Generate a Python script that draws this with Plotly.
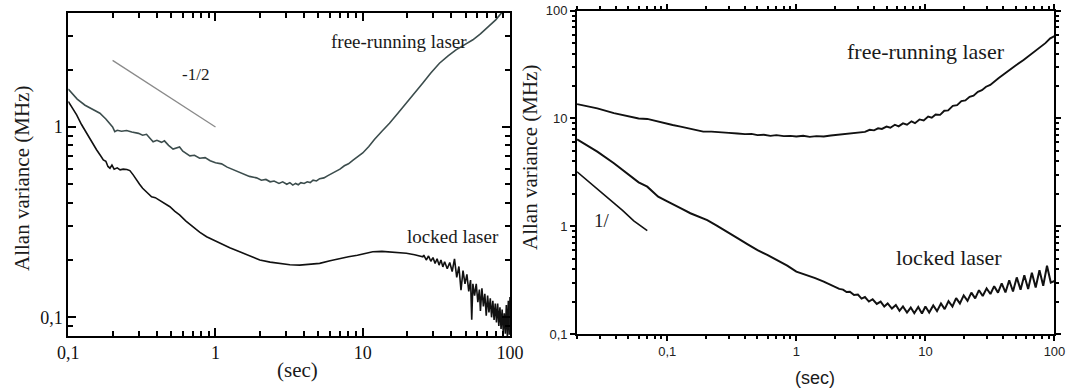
import math
import plotly.graph_objects as go

# ---------------- Left panel data ----------------
left_free_tau = [0.1, 0.115, 0.13, 0.15, 0.164, 0.18, 0.2, 0.207, 0.215, 0.23, 0.249, 0.27, 0.3, 0.32,
                 0.34, 0.36, 0.377, 0.4, 0.43, 0.45, 0.48, 0.515, 0.55, 0.57, 0.6, 0.64, 0.67, 0.72,
                 0.78, 0.85, 0.92, 1.0, 1.1, 1.2, 1.31, 1.45, 1.6, 1.7, 1.9, 2.05, 2.2, 2.35, 2.5,
                 2.7, 2.86, 3.05, 3.2, 3.35, 3.5, 3.65, 3.8, 4.0, 4.2, 4.4, 4.6, 4.85, 5.1, 5.45, 5.8,
                 6.2, 6.6, 7.0, 7.5, 8.0, 8.6, 9.3, 10, 11, 12, 13.5, 15.2, 17.5, 19.8, 22.5, 25.6,
                 29, 33.2, 38, 43, 49, 56, 63, 72, 80, 89, 95, 100]
left_free_val = [1.58, 1.40, 1.30, 1.22, 1.18, 1.10, 1.0, 0.945, 0.96, 0.95, 0.957, 0.94, 0.925, 0.905,
                 0.915, 0.87, 0.835, 0.85, 0.83, 0.845, 0.80, 0.765, 0.78, 0.785, 0.745, 0.725, 0.705, 0.71,
                 0.685, 0.69, 0.665, 0.648, 0.64, 0.615, 0.598, 0.58, 0.565, 0.55, 0.54, 0.525, 0.53, 0.515,
                 0.52, 0.505, 0.515, 0.5, 0.51, 0.495, 0.505, 0.497, 0.51, 0.505, 0.515, 0.51, 0.525,
                 0.52, 0.535, 0.54, 0.555, 0.57, 0.59, 0.6, 0.625, 0.64, 0.67, 0.70, 0.73, 0.79, 0.86,
                 0.95, 1.045, 1.19, 1.33, 1.50, 1.70, 1.92, 2.16, 2.36, 2.54, 2.70, 2.87, 3.08, 3.37,
                 3.65, 4.03, 4.3, 4.5]

left_locked_tau = [0.1, 0.107, 0.114, 0.123, 0.133, 0.144, 0.156, 0.165, 0.173, 0.18, 0.186, 0.192,
                   0.198, 0.205, 0.215, 0.225, 0.236, 0.25, 0.262, 0.276, 0.29, 0.305, 0.32, 0.34,
                   0.368, 0.39, 0.42, 0.45, 0.49, 0.53, 0.57, 0.63, 0.70, 0.78, 0.87, 0.96, 1.07,
                   1.25, 1.46, 1.7, 2.0, 2.35, 2.73, 3.2, 3.73, 4.4, 5.1, 6.0, 7.0, 8.0, 9.2, 10.5,
                   11.7, 13.5, 15.2, 17.5, 19.8, 22.5, 25.6,
                   26, 27, 28, 29, 30, 31, 32, 33, 34, 35, 36, 37.5, 39, 40.5, 42, 43.5, 45, 46.5,
                   48, 49.5, 51, 52.5, 54, 55, 56, 57.5, 59, 60.5, 62, 63, 64.5, 66, 67.5, 69, 70.5,
                   72, 73.5, 75, 76.5, 78, 79.5, 81, 82.5, 84, 85.5, 87, 88.5, 90, 91.5, 93, 94.5,
                   96, 97.5, 99, 100]
left_locked_val = [1.36, 1.25, 1.156, 1.03, 0.927, 0.84, 0.757, 0.71, 0.671, 0.66, 0.62, 0.607,
                   0.63, 0.60, 0.61, 0.595, 0.60, 0.598, 0.59, 0.56, 0.527, 0.50, 0.476, 0.455,
                   0.43, 0.425, 0.41, 0.395, 0.381, 0.36, 0.345, 0.32, 0.30, 0.28, 0.265, 0.255,
                   0.245, 0.232, 0.221, 0.21, 0.20, 0.195, 0.192, 0.189, 0.188, 0.19, 0.192, 0.198,
                   0.204, 0.208, 0.212, 0.217, 0.221, 0.222, 0.221, 0.219, 0.217, 0.213, 0.208,
                   0.212, 0.2, 0.21, 0.197, 0.206, 0.192, 0.203, 0.188, 0.2, 0.184, 0.196, 0.18,
                   0.194, 0.174, 0.203, 0.162, 0.185, 0.139, 0.176, 0.15, 0.168, 0.137, 0.157, 0.097,
                   0.15, 0.13, 0.15, 0.12, 0.14, 0.108, 0.142, 0.114, 0.133, 0.102, 0.13, 0.106,
                   0.126, 0.1, 0.122, 0.097, 0.118, 0.094, 0.118, 0.09, 0.113, 0.087, 0.11, 0.084,
                   0.105, 0.082, 0.116, 0.079, 0.122, 0.081, 0.128]

slope_half_tau = [0.2, 1.0]
slope_half_val = [2.236, 1.0]

# ---------------- Right panel data ----------------
right_free_tau = [0.02, 0.0287, 0.0386, 0.052, 0.06, 0.07, 0.08, 0.094, 0.11, 0.127, 0.145, 0.16,
                  0.175, 0.19, 0.22, 0.25, 0.274, 0.3, 0.35, 0.4, 0.45, 0.5, 0.56, 0.63, 0.7, 0.8,
                  0.9, 1.0, 1.13, 1.27, 1.43, 1.63, 1.85, 2.2, 2.6, 2.95, 3.2, 3.4, 3.7, 4.0, 4.3,
                  4.6, 5.0, 5.35, 5.8, 6.2, 6.7, 7.2, 7.8, 8.3, 9.0, 9.7, 10.5, 11.2, 12, 13, 14, 15,
                  16.3, 17.6, 19, 20.4, 22, 23.6, 25.5, 27.4, 29.5, 31.8, 37, 42.8, 50, 57.6, 67,
                  77.6, 85, 92.7, 97, 100]
right_free_val = [13.6, 12.4, 11.2, 10.3, 10.0, 9.9, 9.5, 9.0, 8.7, 8.4, 8.1, 7.8,
                  7.6, 7.55, 7.55, 7.5, 7.45, 7.35, 7.25, 7.15, 7.2, 7.0, 7.05, 6.9, 7.0, 6.85,
                  6.9, 6.8, 6.9, 6.75, 6.85, 6.8, 6.95, 7.1, 7.25, 7.4, 7.55, 7.5, 7.85, 7.75, 8.1,
                  8.0, 8.4, 8.2, 8.75, 8.45, 9.0, 8.75, 9.4, 9.05, 9.8, 9.6, 10.4, 10.15, 10.9, 10.8, 11.8,
                  11.9, 13.1, 13.3, 14.5, 14.7, 15.9, 16.3, 17.7, 18.3, 19.7, 20.5, 23.7, 27.2, 31,
                  34.9, 40, 46.3, 50, 55.4, 57.5, 58]

right_locked_tau = [0.02, 0.0287, 0.0386, 0.052, 0.06, 0.07, 0.085, 0.1, 0.108, 0.13, 0.151, 0.175,
                    0.204, 0.24, 0.274, 0.31, 0.35, 0.42, 0.5, 0.6, 0.71, 0.85, 1.0, 1.21, 1.4,
                    1.63, 1.85,
                    2.0, 2.15, 2.3, 2.45, 2.6, 2.8, 3.0, 3.2, 3.4, 3.65, 3.9, 4.2, 4.5, 4.8, 5.1,
                    5.5, 5.9, 6.3, 6.7, 7.2, 7.7, 8.2, 8.8, 9.4, 10, 10.7, 11.5, 12.3, 13.2, 14.1,
                    15.1, 16.2, 17.3, 18.5, 19.8, 21.2, 22.7, 24.3, 26, 27.8, 29.8, 31.9, 34.1, 36.5,
                    39, 41.7, 44.6, 47.7, 51, 54.6, 58.4, 62.5, 66.8, 71.5, 76.5, 81.8, 87.5, 93.6,
                    100]
right_locked_val = [6.4, 4.92, 3.84, 2.88, 2.55, 2.33, 1.88, 1.7, 1.63, 1.45, 1.32, 1.22,
                    1.14, 1.02, 0.92, 0.84, 0.774, 0.68, 0.60, 0.54, 0.487, 0.43, 0.379, 0.353, 0.33,
                    0.306, 0.285,
                    0.275, 0.262, 0.258, 0.245, 0.247, 0.23, 0.232, 0.213, 0.22, 0.2, 0.21, 0.19,
                    0.2, 0.18, 0.192, 0.172, 0.186, 0.164, 0.18, 0.158, 0.176, 0.156, 0.178, 0.155,
                    0.18, 0.158, 0.184, 0.163, 0.192, 0.17, 0.202, 0.18, 0.215, 0.192, 0.228, 0.203,
                    0.242, 0.214, 0.255, 0.225, 0.265, 0.235, 0.278, 0.242, 0.295, 0.243, 0.315, 0.248,
                    0.335, 0.258, 0.35, 0.262, 0.37, 0.27, 0.39, 0.28, 0.43, 0.30, 0.31]

slope_one_tau = [0.02, 0.03, 0.045, 0.055, 0.07]
slope_one_val = [3.2, 2.12, 1.4, 1.12, 0.91]

# tick values / labels (comma decimal separator as in the original)
major_tick_vals = [0.1, 1, 10, 100]
major_tick_text = ["0,1", "1", "10", "100"]

SERIF = "Liberation Serif"
SANS = "Liberation Sans"

fig = go.Figure()

fig.add_trace(go.Scatter(x=slope_half_tau, y=slope_half_val, mode="lines",
                         line=dict(color="#8a8a8a", width=1.3), xaxis="x", yaxis="y"))
fig.add_trace(go.Scatter(x=left_free_tau, y=left_free_val, mode="lines",
                         line=dict(color="#3c4d4d", width=1.6), xaxis="x", yaxis="y"))
fig.add_trace(go.Scatter(x=left_locked_tau, y=left_locked_val, mode="lines",
                         line=dict(color="#111111", width=1.6), xaxis="x", yaxis="y"))

fig.add_trace(go.Scatter(x=right_free_tau, y=right_free_val, mode="lines",
                         line=dict(color="#111111", width=1.9), xaxis="x2", yaxis="y2"))
fig.add_trace(go.Scatter(x=right_locked_tau, y=right_locked_val, mode="lines",
                         line=dict(color="#111111", width=2.0), xaxis="x2", yaxis="y2"))
fig.add_trace(go.Scatter(x=slope_one_tau, y=slope_one_val, mode="lines",
                         line=dict(color="#111111", width=1.6), xaxis="x2", yaxis="y2"))


def make_axis(domain, rng, anchor, tdir, tlen, mlen, lw, font):
    return dict(type="log", range=rng, domain=domain, anchor=anchor, autorange=False,
                showline=True, linecolor="black", linewidth=lw, mirror="allticks",
                ticks=tdir, ticklen=tlen, tickwidth=2, tickcolor="black",
                tickmode="array", tickvals=major_tick_vals, ticktext=major_tick_text,
                minor=dict(ticks=tdir, ticklen=mlen, tickwidth=1.6, tickcolor="black", dtick="D1"),
                showgrid=False, zeroline=False, automargin=False, tickfont=font)


lfont = dict(family=SERIF, size=18, color="#111111")
rfont = dict(family=SANS, size=13, color="#222222")

annotations = []


def data_text(text, tau, val, xr, yr, size, family=SERIF):
    annotations.append(dict(text=text, x=math.log10(tau), y=math.log10(val), xref=xr, yref=yr,
                            showarrow=False, font=dict(family=family, size=size, color="#1a1a1a"),
                            xanchor="center", yanchor="middle"))


data_text("free-running laser", 17.5, 2.8, "x", "y", 19)
data_text("locked laser", 40.9, 0.265, "x", "y", 19)
data_text("-1/2", 0.735, 1.876, "x", "y", 17)
data_text("free-running laser", 10.1, 41.7, "x2", "y2", 22)
data_text("locked laser", 15.3, 0.508, "x2", "y2", 22)
data_text("1/", 0.0314, 1.14, "x2", "y2", 19)


def paper_text(text, x, y, size, family, angle=0):
    annotations.append(dict(text=text, x=x, y=y, xref="paper", yref="paper", showarrow=False,
                            textangle=angle, font=dict(family=family, size=size, color="#1a1a1a"),
                            xanchor="center", yanchor="middle"))


paper_text("Allan variance (MHz)", 22.5 / 1070, 1 - 178.5 / 392, 21, SERIF, -90)
paper_text("Allan variance (MHz)", 530 / 1070, 1 - 158 / 392, 21, SERIF, -90)
paper_text("(sec)", 297 / 1070, 1 - 370 / 392, 21, SERIF)
paper_text("(sec)", 815 / 1070, 1 - 378 / 392, 18, SANS)

fig.update_layout(
    xaxis=make_axis([0.0638, 0.4766], [-1, 2], "y", "inside", 8, 5, 1.6, lfont),
    yaxis=make_axis([0.1429, 0.9676], [-1.098, 0.6], "x", "inside", 8, 5, 1.6, lfont),
    xaxis2=make_axis([0.5393, 0.9855], [math.log10(0.02), 2], "y2", "outside", 5, 3, 1.8, rfont),
    yaxis2=make_axis([0.148, 0.9727], [-1, 2], "x2", "outside", 5, 3, 1.8, rfont),
    width=1070, height=392,
    margin=dict(l=0, r=0, t=0, b=0),
    paper_bgcolor="white", plot_bgcolor="white",
    showlegend=False,
    annotations=annotations,
)

fig.write_html("out.html")
